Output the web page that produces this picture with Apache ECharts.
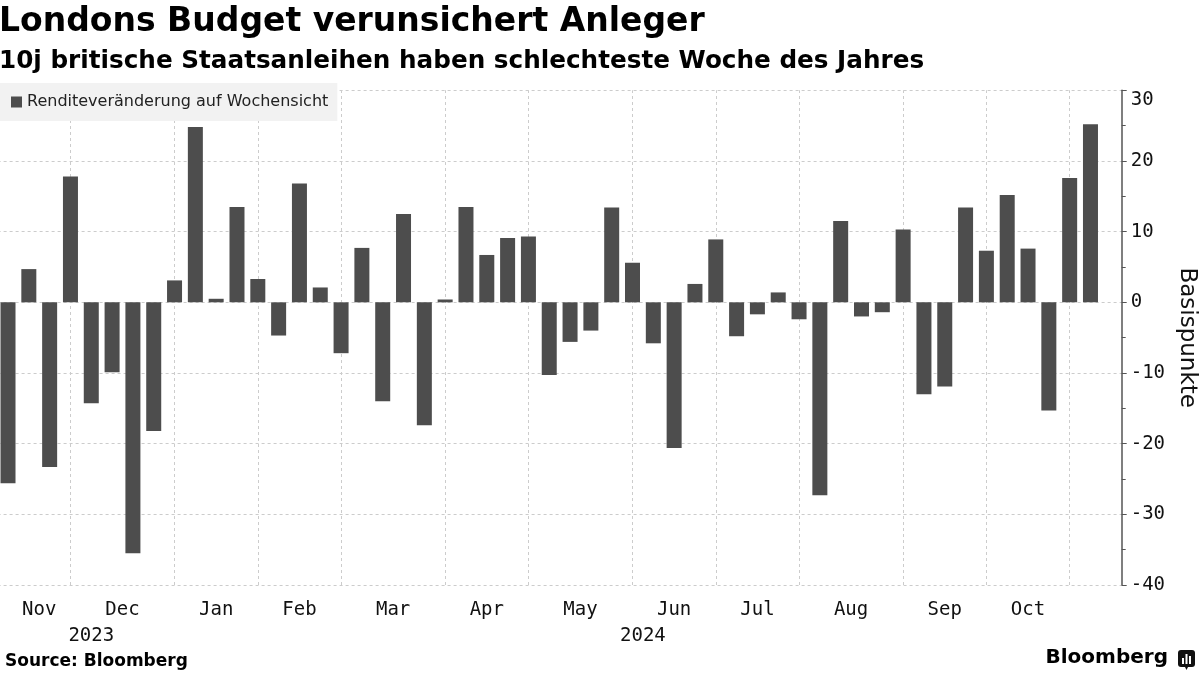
<!DOCTYPE html>
<html>
<head>
<meta charset="utf-8">
<title>Londons Budget verunsichert Anleger</title>
<script src="https://cdn.jsdelivr.net/npm/echarts@6/dist/echarts.min.js"></script>
<style>
  html, body { margin: 0; padding: 0; background: #fff; }
  #chart { width: 1200px; height: 675px; }
</style>
</head>
<body>
<div id="chart"></div>
<script>
// Wochen (Freitage) und wöchentliche Renditeveränderung in Basispunkten
var weeks = [
    '2023-11-10', '2023-11-17', '2023-11-24', '2023-12-01', '2023-12-08', '2023-12-15', '2023-12-22', '2023-12-29',
    '2024-01-05', '2024-01-12', '2024-01-19', '2024-01-26', '2024-02-02', '2024-02-09', '2024-02-16', '2024-02-23',
    '2024-03-01', '2024-03-08', '2024-03-15', '2024-03-22', '2024-03-29', '2024-04-05', '2024-04-12', '2024-04-19',
    '2024-04-26', '2024-05-03', '2024-05-10', '2024-05-17', '2024-05-24', '2024-05-31', '2024-06-07', '2024-06-14',
    '2024-06-21', '2024-06-28', '2024-07-05', '2024-07-12', '2024-07-19', '2024-07-26', '2024-08-02', '2024-08-09',
    '2024-08-16', '2024-08-23', '2024-08-30', '2024-09-06', '2024-09-13', '2024-09-20', '2024-09-27', '2024-10-04',
    '2024-10-11', '2024-10-18', '2024-10-25', '2024-11-01', '2024-11-08'
];
var yieldChange = [
    -25.6, 4.7, -23.3, 17.8, -14.3, -9.9, -35.5, -18.2,
    3.1, 24.8, 0.5, 13.5, 3.3, -4.7, 16.8, 2.1,
    -7.2, 7.7, -14.0, 12.5, -17.4, 0.4, 13.5, 6.7,
    9.1, 9.3, -10.3, -5.6, -4.0, 13.4, 5.6, -5.8,
    -20.6, 2.6, 8.9, -4.8, -1.7, 1.4, -2.4, -27.3,
    11.5, -2.0, -1.4, 10.3, -13.0, -11.9, 13.4, 7.3,
    15.2, 7.6, -15.3, 17.6, 25.2
];
var monthNames = ['Jan', 'Feb', 'Mar', 'Apr', 'May', 'Jun', 'Jul', 'Aug', 'Sep', 'Oct', 'Nov', 'Dec'];
var yTicks = [-40, -30, -20, -10, 0, 10, 20, 30];

var seriesName = 'Renditeveränderung auf Wochensicht';
var monoFont = '"DejaVu Sans Mono", monospace';
var sansFont = '"DejaVu Sans", sans-serif';

// Monats- und Jahresgruppen aus den Wochen ableiten
function groupBy(keyFn) {
    var groups = [];
    for (var i = 0; i < weeks.length; i++) {
        var key = keyFn(weeks[i]);
        if (!groups.length || groups[groups.length - 1].key != key) {
            groups.push({ key: key, start: i });
        }
    }
    for (var j = 0; j < groups.length; j++) {
        groups[j].end = j + 1 < groups.length ? groups[j + 1].start : weeks.length;
    }
    return groups;
}
var months = groupBy(function (d) { return d.substr(0, 7); });
var years = groupBy(function (d) { return d.substr(0, 4); });

// Beschriftung an der Mitte jeder Gruppe (Achsenschritt 0.5)
var monthLabelAt = {};
months.forEach(function (m) {
    if (m.end - m.start >= 3) {
        monthLabelAt[m.start + m.end] = monthNames[parseInt(m.key.substr(5, 2), 10) - 1];
    }
});
var yearLabelAt = {};
years.forEach(function (y) {
    yearLabelAt[y.start + y.end] = y.key;
});

var barData = [];
for (var k = 0; k < weeks.length; k++) {
    barData.push([k, yieldChange[k]]);
}
var monthLines = [];
for (var m = 1; m < months.length; m++) {
    monthLines.push({ xAxis: months[m].start });
}

var chart = echarts.init(document.getElementById('chart'));
var option = {
    animation: false,
    title: {
        text: 'Londons Budget verunsichert Anleger',
        subtext: '10j britische Staatsanleihen haben schlechteste Woche des Jahres',
        left: -1,
        top: 6,
        padding: 0,
        itemGap: 10,
        textStyle: { fontFamily: sansFont, fontWeight: 'bold', fontSize: 33, color: '#000' },
        subtextStyle: { fontFamily: sansFont, fontWeight: 'bold', fontSize: 24.7, color: '#000' }
    },
    legend: {
        data: [seriesName],
        left: 0,
        top: 83,
        padding: [11, 9, 11, 11],
        backgroundColor: '#f2f2f2',
        icon: 'rect',
        itemWidth: 11,
        itemHeight: 11,
        selectedMode: false,
        textStyle: { fontFamily: sansFont, fontSize: 16, color: '#222' }
    },
    grid: {
        left: -2.4,
        right: 78.3,
        top: 90.3,
        bottom: 90,
        containLabel: false,
        outerBoundsMode: 'none'
    },
    xAxis: [
        {
            type: 'value',
            min: -0.5,
            max: weeks.length + 0.5,
            interval: 0.5,
            axisLine: { show: false, onZero: false },
            axisTick: { show: false },
            splitLine: { show: false },
            axisLabel: {
                margin: 16,
                fontFamily: monoFont,
                fontSize: 19,
                color: '#111',
                formatter: function (v) { return monthLabelAt[Math.round(v * 2)] || ''; }
            }
        },
        {
            type: 'value',
            position: 'bottom',
            offset: 26,
            min: -0.5,
            max: weeks.length + 0.5,
            interval: 0.5,
            axisLine: { show: false, onZero: false },
            axisTick: { show: false },
            splitLine: { show: false },
            axisLabel: {
                margin: 16,
                fontFamily: monoFont,
                fontSize: 19,
                color: '#111',
                formatter: function (v) { return yearLabelAt[Math.round(v * 2)] || ''; }
            }
        }
    ],
    yAxis: {
        type: 'value',
        position: 'right',
        min: yTicks[0],
        max: yTicks[yTicks.length - 1],
        interval: 10,
        name: 'Basispunkte',
        nameLocation: 'middle',
        nameRotate: -90,
        nameGap: 52,
        nameTextStyle: { fontFamily: sansFont, fontSize: 23, color: '#111' },
        axisLine: { show: true, onZero: false, lineStyle: { color: '#555', width: 1.5 } },
        axisTick: { show: true, length: 5, lineStyle: { color: '#555' } },
        minorTick: { show: true, splitNumber: 2, length: 4, lineStyle: { color: '#555' } },
        splitLine: { show: true, lineStyle: { color: '#cccccc', type: [3, 3], width: 1 } },
        axisLabel: {
            margin: 9,
            fontFamily: monoFont,
            fontSize: 19,
            color: '#111',
            verticalAlignMaxLabel: 'top'
        }
    },
    series: [
        {
            name: seriesName,
            type: 'bar',
            xAxisIndex: 0,
            barWidth: 15,
            z: 3,
            itemStyle: { color: '#4d4d4d' },
            emphasis: { disabled: true },
            data: barData,
            markLine: {
                silent: true,
                z: 1,
                symbol: 'none',
                label: { show: false },
                lineStyle: { color: '#cccccc', type: [3, 3], width: 1 },
                emphasis: { disabled: true },
                data: monthLines
            }
        }
    ],
    graphic: [
        {
            type: 'text',
            left: 5,
            top: 653,
            style: { text: 'Source: Bloomberg', font: 'bold 17px "DejaVu Sans"', fill: '#000' }
        },
        {
            type: 'text',
            right: 32,
            top: 648,
            style: { text: 'Bloomberg', font: 'bold 20px "DejaVu Sans"', fill: '#000' }
        },
        {
            type: 'group',
            right: 5,
            top: 650,
            children: [
                { type: 'rect', shape: { x: 0, y: 0, width: 17, height: 17, r: 3 }, style: { fill: '#111' } },
                { type: 'polygon', shape: { points: [[7, 17], [10, 17], [8.5, 20]] }, style: { fill: '#111' } },
                { type: 'rect', shape: { x: 4, y: 8, width: 2, height: 6 }, style: { fill: '#fff' } },
                { type: 'rect', shape: { x: 7.5, y: 4, width: 2, height: 10 }, style: { fill: '#fff' } },
                { type: 'rect', shape: { x: 11, y: 6, width: 2, height: 8 }, style: { fill: '#fff' } }
            ]
        }
    ]
};
chart.setOption(option);
window.onresize = chart.resize;
</script>
</body>
</html>
